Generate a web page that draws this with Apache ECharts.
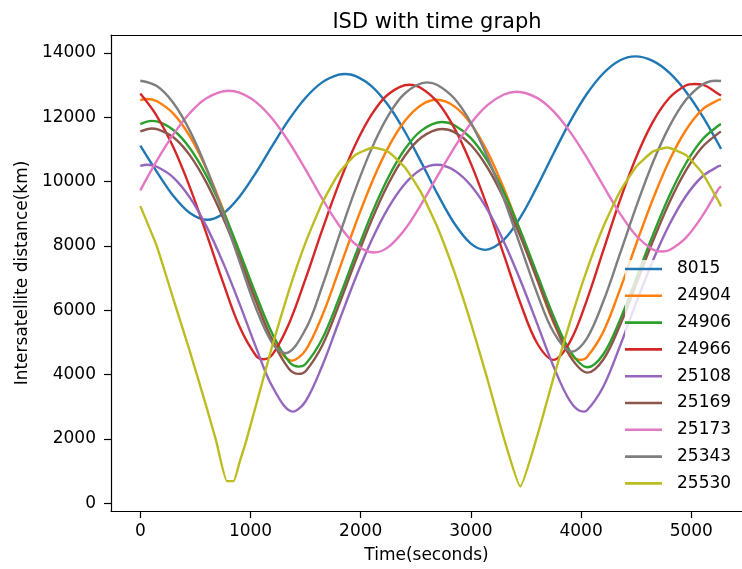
<!DOCTYPE html>
<html>
<head>
<meta charset="utf-8">
<script src="https://cdn.jsdelivr.net/npm/echarts@6/dist/echarts.min.js"></script>
<style>
html,body{margin:0;padding:0;background:#fff;}
#chart{width:742px;height:569px;}
</style>
</head>
<body>
<div id="chart"></div>
<script>
// ---- Data (time in seconds, distance in km) ----
const t8015  = [0,150,300,450,605,750,900,1050,1200,1350,1500,1650,1800,1860,1950,2100,2250,2400,2550,2700,2850,3000,3131,3300,3450,3600,3750,3900,4050,4200,4350,4492,4650,4800,4950,5100,5250,5270];
const s8015  = [11120,10306,9556,9026,8815,9006,9533,10286,11129,11936,12610,13088,13326,13348,13288,12966,12376,11561,10599,9596,8699,8072,7881,8198,8897,9845,10878,11868,12717,13364,13769,13896,13757,13389,12806,12043,11148,11020];

const t24904 = [0,60,150,300,450,600,750,900,1050,1200,1376,1500,1650,1800,1950,2100,2250,2400,2550,2692,2850,3000,3150,3300,3450,3600,3750,3900,3993,4050,4200,4350,4500,4650,4800,4950,5100,5250,5270];
const s24904 = [12540,12570,12499,12115,11406,10394,9143,7733,6294,5086,4437,4762,5830,7223,8654,9969,11066,11884,12386,12548,12342,11797,10932,9782,8430,6973,5615,4648,4459,4531,5322,6620,8062,9448,10653,11600,12243,12548,12560];

const t24906 = [0,106,150,300,450,600,750,900,1050,1200,1350,1437,1500,1650,1800,1950,2100,2250,2400,2550,2738,2850,3000,3150,3300,3450,3600,3750,3900,4059,4200,4350,4500,4650,4800,4950,5100,5250,5270];
const s24906 = [11790,11890,11876,11607,11040,10187,9095,7825,6486,5254,4399,4250,4332,5110,6343,7704,9007,10131,11007,11587,11854,11756,11353,10644,9664,8469,7139,5817,4733,4231,4627,5678,6994,8328,9555,10565,11311,11756,11786];

const t24966 = [0,150,300,450,600,750,900,1050,1119,1200,1350,1500,1650,1800,1950,2100,2250,2440,2550,2700,2850,3000,3150,3300,3450,3600,3751,3900,4050,4200,4350,4500,4650,4800,4950,5030,5100,5250,5270];
const s24966 = [12740,12042,11068,9824,8385,6875,5494,4590,4480,4630,5593,6984,8492,9917,11139,12092,12719,13015,12908,12459,11664,10561,9214,7714,6218,4984,4459,5024,6294,7846,9395,10760,11851,12602,12992,13037,13020,12720,12680];

const t25108 = [0,60,150,300,450,600,750,900,1050,1200,1385,1500,1650,1800,1950,2100,2250,2400,2550,2692,2850,3000,3150,3300,3450,3600,3750,3900,4017,4050,4200,4350,4500,4650,4800,4950,5100,5250,5270];
const s25108 = [10490,10525,10463,10128,9504,8611,7491,6207,4848,3617,2851,3173,4270,5629,6976,8187,9186,9927,10385,10526,10349,9879,9131,8128,6927,5596,4253,3175,2851,2878,3617,4865,6239,7534,8659,9547,10161,10485,10500];

const t25169 = [0,106,150,300,450,600,750,900,1050,1200,1350,1437,1500,1650,1800,1950,2100,2250,2400,2550,2738,2850,3000,3150,3300,3450,3600,3750,3900,4059,4200,4350,4500,4650,4800,4950,5100,5250,5270];
const s25169 = [11561,11655,11636,11380,10818,9971,8887,7623,6285,5044,4176,4023,4107,4900,6145,7509,8808,9926,10797,11372,11637,11540,11142,10441,9473,8290,6971,5655,4569,4064,4462,5511,6816,8136,9348,10344,11079,11518,11547];

const t25173 = [0,150,300,450,600,801,900,1050,1200,1350,1500,1650,1800,1950,2117,2250,2400,2550,2700,2850,3000,3150,3300,3418,3600,3750,3900,4050,4200,4350,4500,4650,4734,4800,4950,5100,5250,5270];
const s25173 = [9730,10654,11471,12136,12596,12828,12766,12474,11948,11226,10375,9478,8663,8064,7798,7966,8513,9305,10194,11062,11817,12381,12711,12797,12606,12187,11550,10758,9881,9024,8320,7894,7829,7870,8255,8936,9789,9850];

const t25343 = [0,150,300,450,600,750,900,1050,1200,1316,1500,1650,1800,1950,2100,2250,2400,2601,2700,2850,3000,3150,3300,3450,3600,3750,3917,4050,4200,4350,4500,4650,4800,4950,5100,5220,5270];
const s25343 = [13140,12974,12445,11581,10421,9033,7525,6063,4969,4667,5414,6740,8269,9746,11036,12052,12742,13087,12999,12584,11830,10767,9462,7996,6535,5322,4717,5111,6265,7730,9224,10587,11712,12538,13016,13140,13130];

const t25530 = [0,150,300,450,600,690,786,846,900,959,1050,1200,1350,1500,1650,1800,1950,2117,2250,2400,2550,2700,2850,3000,3150,3300,3448,3600,3750,3900,4050,4200,4350,4500,4650,4779,4950,5100,5250,5270];
const s25530 = [9240,7990,6350,4720,3000,1917,690,690,1266,1917,3050,4929,6628,8112,9337,10256,10831,11064,10928,10447,9651,8551,7186,5605,3858,2015,520,2071,3909,5650,7228,8585,9675,10465,10935,11064,10827,10266,9372,9228];

const names = ['8015','24904','24906','24966','25108','25169','25173','25343','25530'];
const times  = [t8015,t24904,t24906,t24966,t25108,t25169,t25173,t25343,t25530];
const values = [s8015,s24904,s24906,s24966,s25108,s25169,s25173,s25343,s25530];

const xTicks = [0,1000,2000,3000,4000,5000];
const yTicks = [0,2000,4000,6000,8000,10000,12000,14000];

const colors = ['#1f77b4','#ff7f0e','#2ca02c','#d62728','#9467bd','#8c564b','#e377c2','#7f7f7f','#bcbd22'];
const FONT = 'DejaVu Sans';

const series = names.map((n, i) => ({
  name: n,
  type: 'line',
  data: values[i].map((v, k) => [times[i][k], v]),
  symbol: 'none',
  smooth: n === '25530' ? 0.15 : 0.35,
  lineStyle: { width: 2.4, color: colors[i] },
  itemStyle: { color: colors[i] },
  emphasis: { disabled: true },
  animation: false
}));

const XMIN = -266, XMAX = 5460, YMIN = -240, YMAX = 14561;

const chart = echarts.init(document.getElementById('chart'), null, { renderer: 'canvas' });
chart.setOption({
  animation: false,
  backgroundColor: '#fff',
  title: {
    text: 'ISD with time graph',
    left: 432, top: 7, textAlign: 'center',
    textStyle: { fontFamily: FONT, fontSize: 21, fontWeight: 'normal', color: '#000' }
  },
  grid: { left: 111, top: 35, right: 0, height: 476, show: false },
  legend: {
    data: names,
    orient: 'vertical',
    left: 625, top: 260,
    padding: 0,
    icon: 'rect',
    itemWidth: 37, itemHeight: 2.6, itemGap: 8.8,
    textStyle: { fontFamily: FONT, fontSize: 17, color: '#000', lineHeight: 18, padding: [0,0,0,10] },
    backgroundColor: 'rgba(255,255,255,0.8)'
  },
  xAxis: [{
    type: 'value',
    min: XMIN, max: XMAX,
    name: 'Time(seconds)',
    nameLocation: 'middle', nameGap: 36,
    nameTextStyle: { fontFamily: FONT, fontSize: 17, color: '#000' },
    axisLine: { show: true, onZero: false, lineStyle: { color: '#000', width: 1.2 } },
    axisTick: { show: true, length: 7, customValues: xTicks, lineStyle: { color: '#000', width: 1.2 } },
    axisLabel: { customValues: xTicks, margin: 12, fontFamily: FONT, fontSize: 17, color: '#000', formatter: v => String(v) },
    splitLine: { show: false }
  }, {
    type: 'value', position: 'top',
    min: XMIN, max: XMAX,
    axisLine: { show: true, onZero: false, lineStyle: { color: '#000', width: 1.2 } },
    axisTick: { show: false }, axisLabel: { show: false }, splitLine: { show: false }
  }],
  yAxis: {
    type: 'value',
    min: YMIN, max: YMAX,
    name: 'Intersatellite distance(km)',
    nameLocation: 'middle', nameGap: 77, nameRotate: 90,
    nameTextStyle: { fontFamily: FONT, fontSize: 17, color: '#000' },
    axisLine: { show: true, onZero: false, lineStyle: { color: '#000', width: 1.2 } },
    axisTick: { show: true, length: 7, customValues: yTicks, lineStyle: { color: '#000', width: 1.2 } },
    axisLabel: { customValues: yTicks, margin: 15, fontFamily: FONT, fontSize: 17, color: '#000', formatter: v => String(v) },
    splitLine: { show: false }
  },
  series: series
});
</script>
</body>
</html>
